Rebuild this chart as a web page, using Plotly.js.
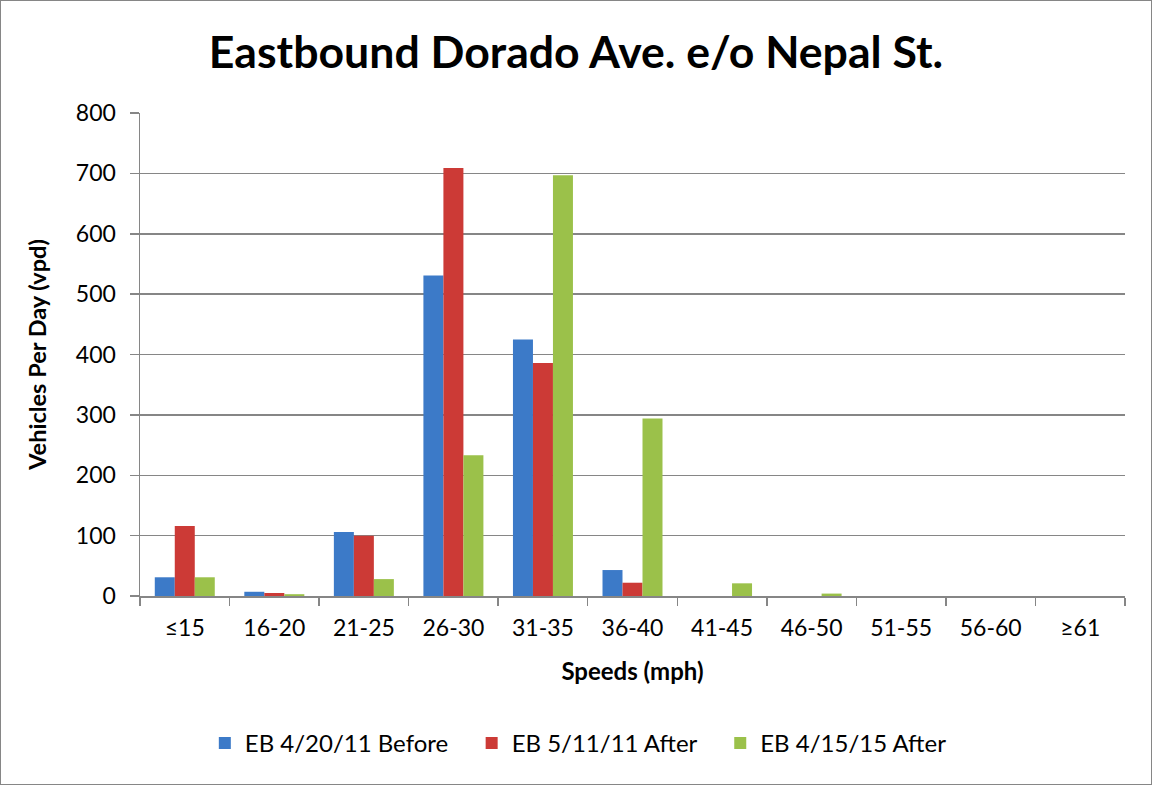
<!DOCTYPE html>
<html><head><meta charset="utf-8">
<script src="https://cdn.plot.ly/plotly-3.0.1.min.js"></script>
<style>
html,body{margin:0;padding:0;background:#fff;}
#wrap{width:1152px;height:785px;box-sizing:border-box;border:1px solid #868686;}
#chart{width:1150px;height:783px;}
</style></head><body>
<div id="wrap"><div id="chart"></div></div>
<script>
const categories = ["≤15","16-20","21-25","26-30","31-35","36-40","41-45","46-50","51-55","56-60","≥61"];
const before2011 = [31, 7, 106, 531, 425, 43, 0, 0, 0, 0, 0];
const after2011 = [116, 5, 100, 709, 386, 22, 0, 0, 0, 0, 0];
const after2015 = [31, 3, 28, 233, 697, 294, 21, 4, 0, 0, 0];
const seriesNames = ["EB 4/20/11 Before", "EB 5/11/11 After", "EB 4/15/15 After"];
const colors = ["#3C7AC8", "#CC3A36", "#9BC14A"];

const font = "Lato, 'Open Sans', sans-serif";
const pad = "\u00a0\u00a0\u00a0";
const traces = [before2011, after2011, after2015].map((v, i) => ({
  type: "bar", x: categories, y: v, name: seriesNames[i] + (i < 2 ? pad : ""),
  marker: {color: colors[i], line: {width: 0}}
}));

const layout = {
  width: 1150, height: 783,
  margin: {l: 139, r: 26, t: 112, b: 188},
  paper_bgcolor: "#fff", plot_bgcolor: "#fff",
  font: {family: font, color: "#000"},
  title: {text: "<b>Eastbound Dorado Ave. e/o Nepal St.</b>", font: {size: 44.6, family: font, color: "#000"},
          x: 0.5, xanchor: "center", y: 0.935, yanchor: "middle"},
  bargap: 0.33, bargroupgap: 0,
  xaxis: {
    type: "category", tickson: "boundaries", ticks: "outside", ticklen: 8, tickcolor: "#868686", tickwidth: 1.5,
    showline: true, linecolor: "#868686", linewidth: 1.5, ticklabelstandoff: 11,
    tickfont: {size: 23, family: font}, showgrid: false,
    title: {text: "<b>Speeds (mph)</b>", font: {size: 24, family: font}, standoff: 23}
  },
  yaxis: {
    range: [0, 800], dtick: 100, tick0: 0, ticks: "outside", ticklen: 9, tickcolor: "#868686", tickwidth: 1.5,
    showline: true, linecolor: "#868686", linewidth: 1.5, ticklabelstandoff: 9,
    gridcolor: "#868686", gridwidth: 1.5, zeroline: false,
    tickfont: {size: 23, family: font},
    title: {text: "<b>Vehicles Per Day (vpd)</b>", font: {size: 23.5, family: font}, standoff: 22}
  },
  legend: {orientation: "h", x: 0.445, xanchor: "center", y: -0.305, yanchor: "middle",
           font: {size: 24, family: font}, itemwidth: 30, traceorder: "normal"},
  showlegend: true
};
Plotly.newPlot("chart", traces, layout, {displayModeBar: false, staticPlot: true});
</script>
</body></html>
